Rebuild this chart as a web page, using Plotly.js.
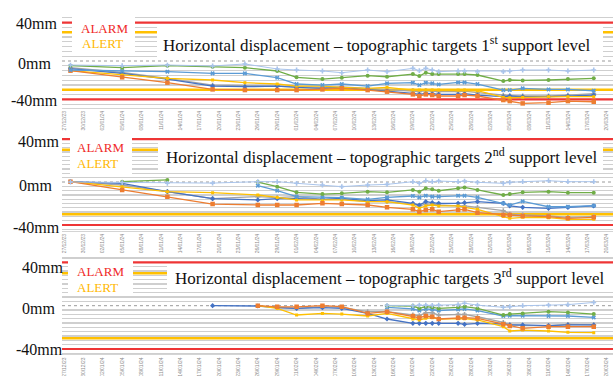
<!DOCTYPE html>
<html><head><meta charset="utf-8">
<script src="https://cdn.plot.ly/plotly-3.0.1.min.js"></script>
<style>html,body{margin:0;padding:0;background:#fff;}#c{width:615px;height:376px;}</style>
</head><body><div id="c"></div>
<script>
// ---------- DATA ----------
const TICKS = ['2023-12-27','2023-12-30','2024-01-02','2024-01-05','2024-01-08','2024-01-11','2024-01-14','2024-01-17','2024-01-20','2024-01-23','2024-01-26','2024-01-29','2024-02-01','2024-02-04','2024-02-07','2024-02-10','2024-02-13','2024-02-16','2024-02-19','2024-02-22','2024-02-25','2024-02-28','2024-03-02','2024-03-05','2024-03-08','2024-03-11','2024-03-14','2024-03-17','2024-03-20'];

const TITLES = ['Horizontal displacement – topographic targets 1<sup>st</sup> support level',
                'Horizontal displacement – topographic targets 2<sup>nd</sup> support level',
                'Horizontal displacement – topographic targets 3<sup>rd</sup> support level'];
const YLABELS = ['40mm','0mm','-40mm'];
const ALARM = 40, ALERT = 30;

// panel 1 (1st support level)
const DATES1 = ['2023-12-28','2024-01-05','2024-01-12','2024-01-19','2024-01-24','2024-01-29','2024-02-01','2024-02-05','2024-02-08','2024-02-12','2024-02-15','2024-02-19','2024-02-20','2024-02-21','2024-02-22','2024-02-23','2024-02-26','2024-02-27','2024-02-29','2024-03-04','2024-03-05','2024-03-07','2024-03-11','2024-03-14','2024-03-18'];
const LB1 = [-4.2,-4.9,-4.2,-5.2,-3.1,-8.3,-9.4,-10.4,-12.2,-9.4,-11.1,-7.7,-10.1,-7.7,-9.4,-11.1,-10.4,-10.4,-11.1,-11.1,-10.4,-9.4,-9.4,-10.4,-9.4];
const G1  = [-4.9,-7.0,-4.9,-5.9,-7.0,-10.4,-17.0,-18.8,-17.4,-15.3,-16.4,-13.6,-15.7,-12.2,-13.6,-13.6,-13.6,-13.6,-14.6,-20.9,-19.8,-20.2,-19.8,-18.8,-18.1];
const MB1 = [-9.4,-10.4,-11.1,-12.9,-12.9,-17.4,-24.0,-25.1,-24.0,-26.1,-23.3,-22.6,-25.1,-22.6,-23.3,-24.4,-22.3,-22.3,-24.0,-30.3,-30.3,-28.5,-29.6,-29.6,-31.0];
const DB1 = [-8.0,-13.0,-19.0,-26.1,-26.8,-26.1,-27.5,-28.5,-27.5,-29.6,-31.0,-33.8,-34.8,-33.8,-34.1,-34.8,-34.8,-34.1,-35.5,-37.2,-36.5,-37.2,-37.2,-36.5,-35.5];
const GR1 = [-7.0,-12.0,-18.0,-25.1,-25.8,-26.1,-26.8,-27.5,-27.0,-28.5,-29.6,-31.0,-32.0,-31.0,-31.5,-32.0,-32.0,-31.5,-33.0,-35.5,-36.0,-36.5,-36.5,-35.5,-34.1];
const Y1  = [-10.1,-14.6,-18.1,-19.8,-22.6,-24.0,-26.1,-26.1,-27.5,-28.5,-27.5,-30.3,-30.3,-30.3,-30.3,-30.3,-30.3,-30.3,-31.0,-37.9,-38.3,-37.9,-37.2,-37.2,-37.2];
const O1  = [-10.1,-17.0,-22.6,-29.6,-30.3,-30.3,-30.3,-29.6,-28.5,-30.3,-32.0,-34.8,-36.5,-34.8,-35.5,-36.5,-36.5,-35.5,-36.5,-40.7,-41.8,-44.2,-43.5,-41.8,-42.5];

// panel 2 (2nd support level)
const DATES2 = ['2023-12-28','2024-01-05','2024-01-12','2024-01-19','2024-01-26','2024-01-29','2024-02-01','2024-02-05','2024-02-08','2024-02-12','2024-02-15','2024-02-19','2024-02-20','2024-02-21','2024-02-22','2024-02-23','2024-02-26','2024-02-27','2024-02-29','2024-03-04','2024-03-05','2024-03-07','2024-03-11','2024-03-14','2024-03-18'];
const LB2 = [0,-0.5,-1.2,-1.0,0.3,0.3,-1.2,-2.8,-4.3,-2.8,-2.2,0.3,-1.2,1.2,0.3,0.9,0.3,0.9,-0.3,-1.2,-0.3,0.3,1.2,0.3,0.3];
const G2  = [null,0.3,1.9,null,0,-4.3,-9.6,-11.2,-10.5,-9.0,-9.6,-7.4,-9.0,-5.9,-6.8,-8.1,-5.9,-5.0,-7.4,-12.1,-11.2,-9.6,-9.0,-9.9,-9.9];
const MB2 = [null,null,null,null,-3.4,-8.1,-13.6,-14.3,-14.6,-16.1,-14.3,-13.0,-14.3,-12.7,-13.6,-13.6,-12.7,-12.7,-14.3,-19.8,-21.4,-18.0,-23.0,-23.0,-22.0];
const DB2 = [0.3,-1.2,-9.0,-15.5,-16.7,-15.5,-15.5,-16.1,-15.2,-17.4,-16.7,-19.8,-21.4,-18.3,-19.2,-19.8,-19.8,-19.2,-18.3,-19.8,-22.3,-23.6,-24.5,-23.6,-22.3];
const GR2 = [0.3,-2.8,-9.0,-15.5,-13.6,-14.6,-13.6,-16.1,-15.8,-18.3,-18.3,-20.5,-22.3,-20.5,-20.5,-21.4,-22.3,-22.3,-23.6,-26.7,-29.8,-30.7,-31.6,-32.9,-32.2];
const Y2  = [0.3,-4.3,-9.0,-9.9,-12.1,-14.3,-16.7,-16.7,-16.7,-18.3,-18.3,-21.4,-24.5,-22.3,-21.4,-22.3,-22.3,-23.6,-25.4,-32.2,-33.8,-32.9,-33.2,-34.7,-34.7];
const O2  = [0.3,-7.4,-13.6,-20.5,-21.4,-21.4,-21.4,-19.8,-20.5,-21.4,-23.6,-25.4,-27.6,-26.0,-25.4,-27.6,-26.0,-25.4,-28.5,-30.7,-30.7,-31.6,-32.2,-33.8,-32.9];

// panel 3 (3rd support level)
const DATES3 = ['2024-01-19','2024-01-26','2024-01-29','2024-02-01','2024-02-05','2024-02-08','2024-02-12','2024-02-15','2024-02-19','2024-02-20','2024-02-21','2024-02-22','2024-02-23','2024-02-26','2024-02-27','2024-02-29','2024-03-04','2024-03-05','2024-03-07','2024-03-11','2024-03-14','2024-03-18'];
const LB3 = [null,null,null,null,null,null,null,0.3,0,0.5,0.5,0.3,0.5,1.0,2.3,0.5,-1.5,-0.9,0,0.5,1.0,3.0];
const G3  = [null,null,null,null,null,null,null,0,-0.3,-2.5,-0.9,-1.5,-2.5,-1.5,-0.9,-2.5,-8.6,-7.7,-7.1,-5.5,-6.2,-7.7];
const MB3 = [null,null,null,null,null,null,null,-1.5,-3.0,-4.5,-3.0,-3.5,-4.5,-3.5,-3.0,-4.5,-9.5,-9.2,-9.2,-9.5,-9.5,-10.8];
const DB3 = [0,-0.3,-1.8,-2.5,-1.8,-2.5,-7.1,-12.3,-16.3,-16.3,-16.3,-16.3,-16.3,-16.3,-17.2,-16.3,-16.9,-17.8,-17.8,-18.5,-17.8,-17.8];
const GR3 = [null,null,-1.8,-2.5,-0.9,-1.5,-5.5,-5.5,-8.6,-9.2,-6.5,-6.5,-8.6,-8.0,-8.0,-10.2,-15.4,-17.8,-18.5,-18.5,-17.2,-17.8];
const Y3  = [null,0,-2.5,-8.6,-7.1,-7.7,-9.5,-7.1,-12.3,-13.2,-11.7,-11.1,-12.3,-12.0,-12.0,-13.2,-19.4,-23.4,-22.5,-23.4,-24.6,-24.9];
const O3  = [null,0,-1,-1,0,-0.9,-7.1,-5.5,-9.5,-11.1,-9.5,-10.2,-12.3,-11.1,-11.1,-11.7,-17.2,-18.8,-20.9,-19.4,-19.4,-19.4];

// ---------- STYLE ----------
const W = 615, H = 376;
const px = v => v / W, py = v => 1 - v / H;
const ST = {
  GR: {color:'#A5A5A5', sym:'cross', size:4},
  DB: {color:'#4472C4', sym:'diamond', size:4},
  Y:  {color:'#FFC000', sym:'square', size:3},
  O:  {color:'#ED7D31', sym:'square', size:4.5},
  MB: {color:'#5B9BD5', sym:'x', size:4},
  G:  {color:'#70AD47', sym:'circle', size:4},
  LB: {color:'#A9C4EB', sym:'cross', size:4}
};
function tr(x, y, k, ax) {
  const s = ST[k];
  return {x:x, y:y, type:'scatter', mode:'lines+markers', xaxis:'x'+ax, yaxis:'y'+ax,
    connectgaps:false, hoverinfo:'skip',
    line:{color:s.color, width:k==='LB'?1:1.3},
    marker:{symbol:s.sym, size:s.size, color:s.color}};
}
function gridVals(rng, dt) {
  const v = [];
  for (let t = Math.ceil(rng[0]/dt)*dt; t <= rng[1]; t += dt) {
    if (t !== 0 && Math.abs(t) !== ALARM && Math.abs(t) !== ALERT) v.push(t);
  }
  return v;
}
const panels = [
  {d:DATES1, s:{GR:GR1,DB:DB1,Y:Y1,O:O1,MB:MB1,G:G1,LB:LB1}, ax:'', dom:[py(108),py(14)], rng:[-49,49], dt:5},
  {d:DATES2, s:{GR:GR2,DB:DB2,Y:Y2,O:O2,MB:MB2,G:G2,LB:LB2}, ax:'2', dom:[py(230.9),py(134.2)], rng:[-45.5,44.5], dt:4},
  {d:DATES3, s:{GR:GR3,DB:DB3,Y:Y3,O:O3,MB:MB3,G:G3,LB:LB3}, ax:'3', dom:[py(354.4),py(257)], rng:[-45,45], dt:4}
];
const boxes = [
  {title:[157,603,27,57], leg:[72,135,16,53], tc:[377,44], alarm:[104,28], alert:[102,43], yl:[[36,24],[34,63],[34,100]]},
  {title:[158,603,142,170], leg:[70,132,136,176], tc:[382,156], alarm:[100,147], alert:[97,163], yl:[[38,141],[35,185],[36,227]]},
  {title:[167,613,264,292], leg:[68,133,259,296], tc:[390,277], alarm:[100,271], alert:[97,287], yl:[[42,267],[38.5,308],[39.5,349]]}
];

const data = [], shapes = [], annotations = [];
const serif = 'Liberation Serif';
const layout = {width:W, height:H, margin:{l:0,r:0,t:0,b:0}, paper_bgcolor:'#fff', plot_bgcolor:'#fff',
  showlegend:false, hovermode:false, font:{family:serif}};

panels.forEach((p, i) => {
  const ax = p.ax;
  ['GR','DB','Y','O','MB','G','LB'].forEach(k => data.push(tr(p.d, p.s[k], k, ax)));
  layout['xaxis'+ax] = {type:'date', domain:[px(62),px(613)], anchor:'y'+ax,
    range:['2023-12-26 16:30','2024-03-20 23:30'], tickvals:TICKS, tickformat:'%d/%m/%y',
    tickangle:-90, tickfont:{size:5, color:'#8c8c8c', family:'Liberation Sans'},
    showgrid:false, zeroline:false, showline:true, linecolor:'#d4d4d4', ticks:'', fixedrange:true};
  layout['yaxis'+ax] = {domain:p.dom, anchor:'x'+ax, range:p.rng, tickmode:'array', tickvals:gridVals(p.rng, p.dt),
    showticklabels:false, showgrid:true, gridcolor:'#cfcfcf', gridwidth:1.3, zeroline:false, fixedrange:true};
  const xr = 'x'+ax+' domain', yr = 'y'+ax;
  [[ALARM,'#EE3535',2.2],[-ALARM,'#EE3535',2.2],[ALERT,'#FFC000',2.5],[-ALERT,'#FFC000',2.5]].forEach(l => {
    shapes.push({type:'line', xref:xr, yref:yr, x0:0, x1:1, y0:l[0], y1:l[0], layer:'below',
      line:{color:l[1], width:l[2]}});
  });
  shapes.push({type:'line', xref:xr, yref:yr, x0:0, x1:1, y0:0, y1:0, layer:'below',
    line:{color:'#9a9a9a', width:1, dash:'dot'}});
  const b = boxes[i];
  [b.title, b.leg].forEach(r => shapes.push({type:'rect', xref:'paper', yref:'paper',
    x0:px(r[0]), x1:px(r[1]), y0:py(r[3]), y1:py(r[2]), fillcolor:'#fff', line:{width:0}, layer:'above'}));
  annotations.push({xref:'paper', yref:'paper', x:px(b.tc[0]), y:py(b.tc[1]), xanchor:'center', yanchor:'middle',
    text:TITLES[i], showarrow:false, font:{family:serif, size:17, color:'#111'}});
  annotations.push({xref:'paper', yref:'paper', x:px(b.alarm[0]), y:py(b.alarm[1]), xanchor:'center', yanchor:'middle',
    text:'ALARM', showarrow:false, font:{family:serif, size:13, color:'#F02828'}});
  annotations.push({xref:'paper', yref:'paper', x:px(b.alert[0]), y:py(b.alert[1]), xanchor:'center', yanchor:'middle',
    text:'ALERT', showarrow:false, font:{family:serif, size:13, color:'#FFB800'}});
  YLABELS.forEach((t, j) => annotations.push({xref:'paper', yref:'paper', x:px(b.yl[j][0]), y:py(b.yl[j][1]),
    xanchor:'center', yanchor:'middle', text:t, showarrow:false, font:{family:serif, size:16, color:'#111'}}));
});
layout.shapes = shapes;
layout.annotations = annotations;
Plotly.newPlot('c', data, layout, {staticPlot:true, displayModeBar:false});
</script></body></html>
